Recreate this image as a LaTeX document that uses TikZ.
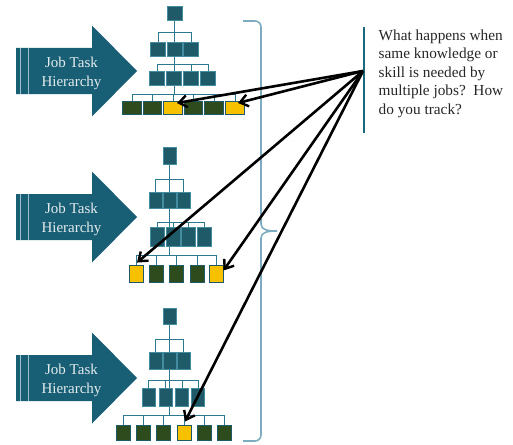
\documentclass[tikz,border=0pt]{standalone}
\usepackage{fontspec}
\setmainfont{Liberation Serif}
\usetikzlibrary{arrows.meta,calc}
\pgfdeclarelayer{bg}
\pgfsetlayers{bg,main}
\definecolor{arrowteal}{RGB}{24,94,117}
\definecolor{boxteal}{RGB}{30,90,104}
\definecolor{boxedge}{RGB}{70,140,160}
\definecolor{boxgreen}{RGB}{46,75,30}
\definecolor{boxyellow}{RGB}{247,193,0}
\definecolor{conncol}{RGB}{45,120,145}
\definecolor{bracecol}{RGB}{125,172,192}
\definecolor{qline}{RGB}{27,104,126}
\definecolor{stripecol}{RGB}{160,192,204}
\newcommand{\jtharrow}[2]{%
  \fill[bigarrow] (16,#1-23) -- (92,#1-23) -- (92,#1-45.5) -- (137,#1) -- (92,#1+45.5) -- (92,#1+23) -- (16,#1+23) -- cycle;
  \draw[stripe] (20.7,#1-23) -- (20.7,#1+23);
  \draw[stripe] (28.3,#1-23) -- (28.3,#1+23);
  \node[lbl] (#2) at (71.5,#1+2.5) {Job Task\\Hierarchy};
}
\begin{document}
\begin{tikzpicture}[x=1pt,y=-1pt,
  tb/.style={draw=boxedge, fill=boxteal, line width=0.7pt, inner sep=0pt},
  gb/.style={draw=boxteal, fill=boxgreen, line width=0.9pt, inner sep=0pt},
  yb/.style={draw=boxteal, fill=boxyellow, line width=0.9pt, inner sep=0pt},
  conn/.style={draw=conncol, line width=0.8pt},
  bigarrow/.style={fill=arrowteal, draw=none},
  stripe/.style={draw=stripecol, line width=1.1pt},
  ptr/.style={line width=2.6pt, black, -{Straight Barb[length=8pt,width=12pt,line width=2.4pt]}},
  lbl/.style={text=white!88!arrowteal, align=center, inner sep=0pt, font=\fontsize{15}{18.5}\selectfont},
  brace/.style={draw=bracecol, line width=1.6pt}
]
\useasboundingbox (0,0) rectangle (513,444);

% ---------- big arrows ----------
\jtharrow{71}{l1}
\jtharrow{217}{l2}
\jtharrow{378}{l3}

% ---------- hierarchy 1 ----------
\node[tb, minimum width=15, minimum height=14] (h1t) at (174.5,13) {};
\foreach \n/\x in {ra/158, rb/174.5, rc/191}
  \node[tb, minimum width=15, minimum height=14] (h1\n) at (\x,49) {};
\foreach \n/\x in {sa/157, sb/174, sc/191, sd/208}
  \node[tb, minimum width=15, minimum height=14] (h1\n) at (\x,78) {};
\foreach \n/\x/\s in {ua/132/gb, ub/152.5/gb, uc/173/yb, ud/193.5/gb, ue/214/gb, uf/235/yb}
  \node[\s, minimum width=18.5, minimum height=13] (h1\n) at (\x,107.5) {};
\coordinate (h1y2) at (0,32);
\coordinate (h1y3) at (0,64);
\coordinate (h1y4) at (0,94);

% ---------- hierarchy 2 ----------
\node[tb, minimum width=13, minimum height=17] (h2t) at (169.5,155.5) {};
\foreach \n/\x in {ra/155.5, rb/169.5, rc/183.5}
  \node[tb, minimum width=13, minimum height=16] (h2\n) at (\x,200) {};
\foreach \n/\x in {sa/157.5, sb/173, sc/188.7, sd/204.5}
  \node[tb, minimum width=14, minimum height=19] (h2\n) at (\x,236.5) {};
\foreach \n/\x/\s in {ua/136/yb, ub/156/gb, uc/176.5/gb, ud/197/gb, ue/216/yb}
  \node[\s, minimum width=14, minimum height=17] (h2\n) at (\x,273.5) {};
\coordinate (h2y2) at (0,179);
\coordinate (h2y3) at (0,222);
\coordinate (h2y4) at (0,255);

% ---------- hierarchy 3 ----------
\node[tb, minimum width=13, minimum height=16] (h3t) at (169.5,316) {};
\foreach \n/\x in {ra/155.5, rb/169.5, rc/183.5}
  \node[tb, minimum width=13, minimum height=17] (h3\n) at (\x,360.5) {};
\foreach \n/\x in {sa/148.5, sb/165.5, sc/182, sd/198}
  \node[tb, minimum width=13, minimum height=18] (h3\n) at (\x,397) {};
\foreach \n/\x/\s in {ua/123/gb, ub/143/gb, uc/163/gb, ud/184/yb, ue/204/gb, uf/224/gb}
  \node[\s, minimum width=14, minimum height=15] (h3\n) at (\x,432.5) {};
\coordinate (h3y2) at (0,339);
\coordinate (h3y3) at (0,380);
\coordinate (h3y4) at (0,415);

% ---------- tree connectors ----------
\begin{pgfonlayer}{bg}
  % H1
  \draw[conn] (h1t.center) -- (h1t.center |- h1y4);
  \draw[conn] (h1ra.center |- h1y2) -- (h1rc.center |- h1y2);
  \foreach \n in {ra,rb,rc} \draw[conn] (h1\n.center |- h1y2) -- (h1\n.north);
  \draw[conn] (h1sa.center |- h1y3) -- (h1sd.center |- h1y3);
  \foreach \n in {sa,sb,sc,sd} \draw[conn] (h1\n.center |- h1y3) -- (h1\n.north);
  \draw[conn] (h1ua.center |- h1y4) -- (h1uf.center |- h1y4);
  \foreach \n in {ua,ub,uc,ud,ue,uf} \draw[conn] (h1\n.center |- h1y4) -- (h1\n.north);
  % H2
  \draw[conn] (h2t.center) -- (h2t.center |- h2y4);
  \draw[conn] (h2ra.center |- h2y2) -- (h2rc.center |- h2y2);
  \foreach \n in {ra,rb,rc} \draw[conn] (h2\n.center |- h2y2) -- (h2\n.north);
  \draw[conn] (h2sa.center |- h2y3) -- (h2sd.center |- h2y3);
  \foreach \n in {sa,sb,sc,sd} \draw[conn] (h2\n.center |- h2y3) -- (h2\n.north);
  \draw[conn] (h2ua.center |- h2y4) -- (h2ue.center |- h2y4);
  \foreach \n in {ua,ub,uc,ud,ue} \draw[conn] (h2\n.center |- h2y4) -- (h2\n.north);
  % H3
  \draw[conn] (h3t.center) -- (h3t.center |- h3y4);
  \draw[conn] (h3ra.center |- h3y2) -- (h3rc.center |- h3y2);
  \foreach \n in {ra,rb,rc} \draw[conn] (h3\n.center |- h3y2) -- (h3\n.north);
  \draw[conn] (h3sa.center |- h3y3) -- (h3sd.center |- h3y3);
  \foreach \n in {sa,sb,sc,sd} \draw[conn] (h3\n.center |- h3y3) -- (h3\n.north);
  \draw[conn] (h3ua.center |- h3y4) -- (h3uf.center |- h3y4);
  \foreach \n in {ua,ub,uc,ud,ue,uf} \draw[conn] (h3\n.center |- h3y4) -- (h3\n.north);
\end{pgfonlayer}

% ---------- brace ----------
\draw[brace, rounded corners=6pt] (243,21) -- (261,21) -- (261,224);
\draw[brace] (261,224) .. controls (261,230) and (268,231) .. (277,231)
                        .. controls (268,231) and (261,232) .. (261,238);
\draw[brace, rounded corners=6pt] (261,238) -- (261,441) -- (243,441);

% ---------- question ----------
\draw[qline, line width=2pt] (364,27) -- (364,133);
\coordinate (src) at (363,71);
\node[anchor=north west, inner sep=0pt, align=left, text=black!85,
      font=\fontsize{15.3}{18.5}\selectfont] (q) at (378.5,29.5)
  {What happens when\\same knowledge or\\skill is needed by\\multiple jobs?\ \ How\\do you track?};

% ---------- pointers ----------
\draw[ptr] (src) -- ($(h1uc.center)+(4,-4.5)$);
\draw[ptr] (src) -- ($(h1uf.center)+(3,-4.5)$);
\draw[ptr] (src) -- ($(h2ua.north)+(1,-2)$);
\draw[ptr] (src) -- ($(h2ue.east)+(0,-3)$);
\draw[ptr] (src) -- ($(h3ud.north)+(1,-3)$);
\end{tikzpicture}
\end{document}
